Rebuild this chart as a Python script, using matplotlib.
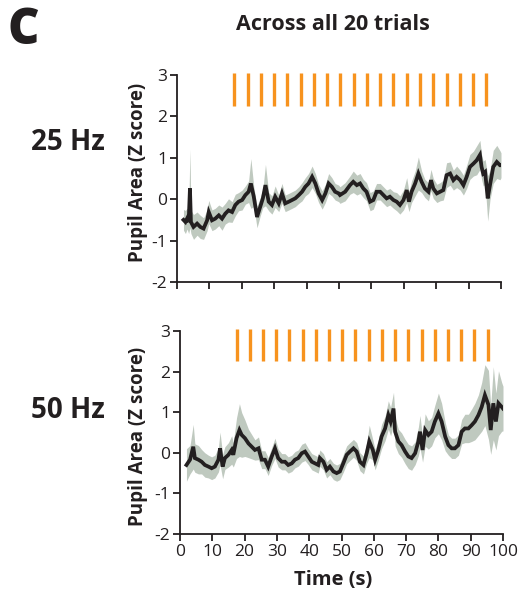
import numpy as np
import matplotlib
matplotlib.use("Agg")
import matplotlib.pyplot as plt

plt.rcParams['font.family'] = ['Open Sans', 'DejaVu Sans']
plt.rcParams['axes.unicode_minus'] = False

# ---------------- data ----------------
trial_onsets_25 = [17.7, 21.8, 25.9, 30.0, 34.1, 38.2, 42.2, 46.3, 50.4, 54.5,
                   58.6, 62.7, 66.8, 70.9, 75.0, 79.1, 83.2, 87.3, 91.4, 95.4]
trial_onsets_50 = [17.5, 21.6, 25.7, 29.8, 33.9, 38.0, 42.0, 46.1, 50.2, 54.3,
                   58.4, 62.5, 66.6, 70.7, 74.8, 78.9, 82.9, 87.0, 91.1, 95.5]

time_25 = [2.0, 2.6, 3.1, 3.6, 4.0, 4.3, 5.1, 6.2, 7.2, 8.2, 9.3, 9.8, 10.8, 11.8,
           12.9, 13.9, 14.9, 15.9, 17.0, 18.0, 19.0, 20.1, 21.1, 22.1, 22.8, 23.7,
           24.7, 25.7, 26.5, 27.3, 28.3, 29.3, 30.3, 31.4, 32.4, 33.4, 34.5, 35.5,
           36.5, 37.6, 38.6, 39.6, 40.6, 41.7, 42.7, 43.7, 44.8, 45.8, 46.8, 47.8,
           48.8, 49.9, 50.3, 51.9, 53.4, 54.4, 55.5, 56.5, 57.5, 58.5, 59.6, 60.6,
           61.6, 62.7, 63.7, 64.7, 65.7, 66.8, 67.8, 68.8, 69.9, 70.9, 71.6, 72.4,
           73.5, 74.5, 75.5, 76.5, 77.6, 78.4, 79.1, 80.2, 81.2, 82.2, 83.2, 84.3,
           85.3, 86.3, 87.4, 88.4, 89.4, 90.4, 91.5, 92.5, 93.5, 94.0, 94.5, 95.1,
           95.9, 96.6, 97.6, 98.7, 99.7, 100.0]
pupil_25 = [-0.50, -0.55, -0.47, -0.55, 0.26, -0.55, -0.67, -0.59, -0.67, -0.71,
            -0.51, -0.31, -0.51, -0.47, -0.39, -0.47, -0.35, -0.27, -0.31, -0.14,
            -0.06, -0.02, 0.10, 0.18, 0.38, 0.06, -0.43, -0.18, 0.02, 0.34,
            -0.06, -0.14, 0.06, -0.10, 0.14, -0.10, -0.06, -0.02, 0.02, 0.10,
            0.18, 0.30, 0.38, 0.54, 0.38, 0.14, -0.02, 0.14, 0.38, 0.30,
            0.18, 0.14, 0.10, 0.18, 0.34, 0.42, 0.34, 0.38, 0.26, 0.18,
            -0.06, -0.02, 0.18, 0.18, 0.10, 0.02, 0.06, -0.02, -0.06, -0.14,
            -0.02, 0.22, -0.06, 0.18, 0.38, 0.62, 0.42, 0.26, 0.18, 0.46,
            0.26, 0.14, 0.18, 0.22, 0.58, 0.62, 0.46, 0.54, 0.46, 0.34,
            0.54, 0.78, 0.86, 0.94, 1.07, 0.78, 0.62, 0.66, 0.02, 0.34,
            0.78, 0.90, 0.82, 0.82]
sem_25 = [0.25, 0.28, 0.25, 0.28, 0.95, 0.28, 0.30, 0.28, 0.28, 0.26,
          0.25, 0.28, 0.25, 0.25, 0.25, 0.28, 0.25, 0.28, 0.25, 0.26,
          0.22, 0.24, 0.22, 0.26, 0.60, 0.24, 0.26, 0.22, 0.22, 0.50,
          0.22, 0.22, 0.26, 0.20, 0.24, 0.20, 0.20, 0.20, 0.20, 0.20,
          0.22, 0.22, 0.24, 0.26, 0.24, 0.22, 0.22, 0.22, 0.24, 0.22,
          0.20, 0.20, 0.20, 0.22, 0.22, 0.26, 0.24, 0.24, 0.22, 0.22,
          0.22, 0.22, 0.20, 0.20, 0.20, 0.20, 0.20, 0.20, 0.22, 0.22,
          0.24, 0.30, 0.24, 0.26, 0.30, 0.40, 0.26, 0.22, 0.22, 0.26,
          0.24, 0.22, 0.22, 0.24, 0.30, 0.28, 0.24, 0.26, 0.24, 0.24,
          0.28, 0.30, 0.30, 0.35, 0.35, 0.30, 0.30, 0.30, 0.55, 0.35,
          0.40, 0.40, 0.35, 0.30]

time_50 = [2.0, 3.1, 4.1, 4.6, 5.7, 6.7, 7.7, 8.8, 9.8, 10.8, 11.9, 12.4, 13.2,
           13.9, 15.0, 16.0, 16.5, 17.5, 18.4, 19.1, 20.1, 21.2, 22.2, 23.2, 24.3,
           25.3, 26.3, 27.3, 28.4, 29.4, 30.4, 31.5, 32.5, 33.5, 34.6, 35.6, 36.6,
           37.7, 38.7, 39.7, 40.8, 41.8, 42.8, 43.3, 44.4, 45.4, 46.4, 47.5, 48.5,
           49.5, 50.6, 51.6, 52.6, 53.7, 54.7, 55.7, 56.8, 57.8, 58.6, 59.7, 60.4,
           61.4, 62.4, 63.5, 64.5, 65.2, 66.1, 66.6, 67.6, 68.6, 69.7, 70.7, 71.7,
           72.8, 73.8, 74.3, 75.1, 75.9, 76.9, 77.9, 78.9, 80.0, 81.0, 82.1, 83.1,
           84.1, 85.1, 86.2, 87.2, 88.2, 89.3, 90.3, 91.3, 92.4, 93.4, 94.4, 95.5,
           96.2, 97.0, 97.8, 98.6, 99.6, 100.0]
pupil_50 = [-0.30, -0.17, 0.15, -0.13, -0.17, -0.22, -0.30, -0.34, -0.38, -0.34,
            -0.17, 0.11, -0.34, -0.13, -0.05, 0.07, -0.05, 0.36, 0.56, 0.44,
            0.36, 0.23, 0.15, 0.07, 0.11, -0.17, -0.17, -0.34, -0.09, 0.11,
            -0.13, -0.22, -0.22, -0.30, -0.26, -0.17, -0.13, -0.01, 0.03, -0.09,
            -0.22, -0.26, -0.30, -0.13, -0.22, -0.42, -0.34, -0.46, -0.50, -0.46,
            -0.25, -0.05, 0.03, 0.11, 0.03, -0.22, -0.30, -0.01, 0.28, 0.07,
            -0.17, 0.07, 0.40, 0.60, 0.93, 0.77, 1.09, 0.52, 0.28, 0.19,
            0.03, -0.09, -0.13, -0.01, 0.28, 0.52, 0.07, 0.56, 0.44, 0.52,
            0.77, 0.97, 0.77, 0.40, 0.19, 0.11, 0.11, 0.19, 0.52, 0.60,
            0.60, 0.68, 0.77, 0.93, 1.13, 1.42, 1.18, 0.56, 1.22, 0.77,
            1.22, 1.13, 1.09]
sem_50 = [0.40, 0.35, 0.55, 0.35, 0.35, 0.30, 0.30, 0.28, 0.28, 0.28,
          0.30, 0.40, 0.30, 0.28, 0.30, 0.35, 0.30, 0.50, 0.65, 0.55,
          0.45, 0.35, 0.30, 0.25, 0.28, 0.22, 0.22, 0.22, 0.22, 0.25,
          0.22, 0.20, 0.20, 0.20, 0.20, 0.20, 0.20, 0.22, 0.22, 0.20,
          0.20, 0.20, 0.20, 0.20, 0.20, 0.20, 0.20, 0.20, 0.20, 0.20,
          0.22, 0.22, 0.22, 0.22, 0.22, 0.22, 0.22, 0.25, 0.40, 0.25,
          0.25, 0.25, 0.30, 0.30, 0.35, 0.35, 0.40, 0.35, 0.30, 0.30,
          0.30, 0.30, 0.30, 0.28, 0.35, 0.40, 0.30, 0.40, 0.35, 0.35,
          0.40, 0.50, 0.45, 0.35, 0.25, 0.25, 0.25, 0.25, 0.30, 0.35,
          0.35, 0.40, 0.45, 0.50, 0.60, 0.75, 0.85, 0.60, 0.90, 0.70,
          0.80, 0.60, 0.55]

yticks = [-2, -1, 0, 1, 2, 3]
xticks = [0, 10, 20, 30, 40, 50, 60, 70, 80, 90, 100]

# ---------------- style ----------------
INK = '#231f20'
ORANGE = '#f7931e'
BAND = '#b8c3b8'

W, H = 526, 596
fig = plt.figure(figsize=(W / 100, H / 100), dpi=100)


def px_box(left, right, top, bottom):
    return [left / W, 1 - bottom / H, (right - left) / W, (bottom - top) / H]


def panel(ax, t, y, s, onsets, show_xlabels):
    t = np.asarray(t); y = np.asarray(y); s = np.asarray(s)
    ax.fill_between(t, y - s, y + s, color=BAND, lw=0, alpha=0.9, zorder=1)
    ax.plot(t, y, color=INK, lw=2.7, zorder=2, solid_joinstyle='miter')
    ax.vlines(onsets, 2.25, 3.05, color=ORANGE, lw=2.4, clip_on=False, zorder=3)
    ax.set_xlim(0, 100)
    ax.set_ylim(-2, 3)
    ax.set_yticks(yticks)
    ax.set_yticklabels([str(v) for v in yticks])
    ax.set_xticks(xticks)
    if show_xlabels:
        ax.set_xticklabels([str(v) for v in xticks])
    else:
        ax.set_xticklabels([])
    for sp in ['top', 'right']:
        ax.spines[sp].set_visible(False)
    for sp in ['left', 'bottom']:
        ax.spines[sp].set_color(INK)
        ax.spines[sp].set_linewidth(1.3)
    ax.tick_params(direction='out', length=5, width=1.3, color=INK,
                   labelsize=12.5, labelcolor=INK, pad=2)


ax1 = fig.add_axes(px_box(177, 501, 75, 282))
panel(ax1, time_25, pupil_25, sem_25, trial_onsets_25, False)

ax2 = fig.add_axes(px_box(180, 503, 331, 534))
panel(ax2, time_50, pupil_50, sem_50, trial_onsets_50, True)

fig.text(8 / W, 1 - 31 / H, 'C', fontsize=35, weight='heavy', color=INK,
         ha='left', va='center')
fig.text(333 / W, 1 - 25 / H, 'Across all 20 trials', fontsize=15.5,
         weight='bold', color=INK, ha='center', va='center')
fig.text(68 / W, 1 - 143 / H, '25 Hz', fontsize=20, weight='bold', color=INK,
         ha='center', va='center')
fig.text(68 / W, 1 - 410 / H, '50 Hz', fontsize=20, weight='bold', color=INK,
         ha='center', va='center')
fig.text(138 / W, 1 - 172 / H, 'Pupil Area (Z score)', fontsize=13.5,
         weight='bold', color=INK, ha='center', va='center', rotation=90)
fig.text(138 / W, 1 - 436 / H, 'Pupil Area (Z score)', fontsize=13.5,
         weight='bold', color=INK, ha='center', va='center', rotation=90)
fig.text(333 / W, 1 - 580 / H, 'Time (s)', fontsize=14.5, weight='bold',
         color=INK, ha='center', va='center')

fig.savefig('out.png', dpi=100)
